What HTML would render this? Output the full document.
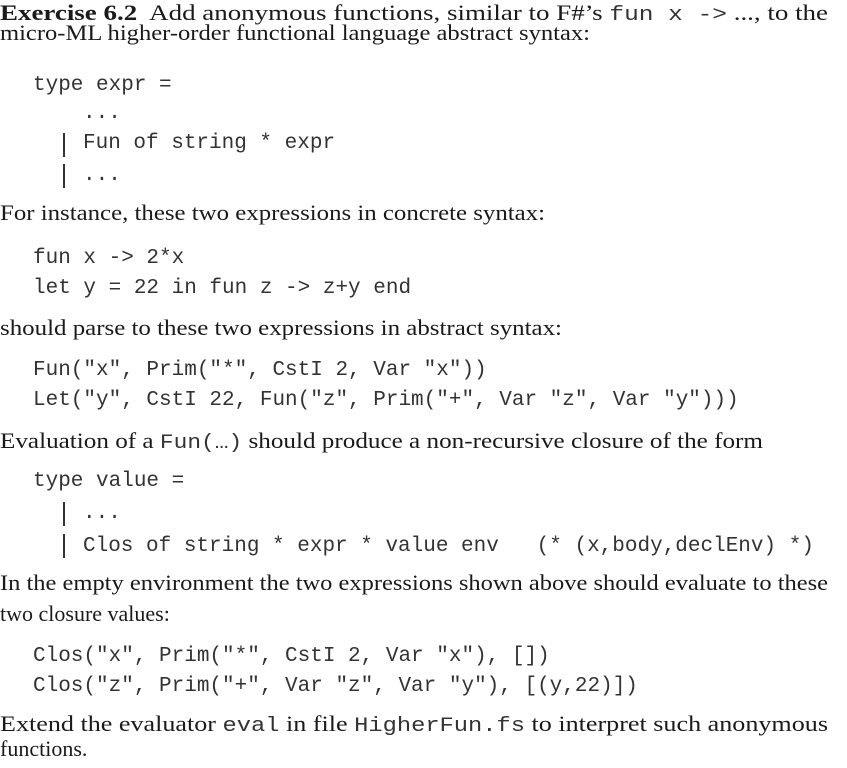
<!DOCTYPE html>
<html><head><meta charset="utf-8"><style>
html,body{margin:0;padding:0;background:#fff;}
body{width:847px;height:768px;position:relative;overflow:hidden;color:#1a1a1a;}
.t{position:absolute;left:0;white-space:nowrap;font-family:"Liberation Serif",serif;font-size:22px;line-height:22px;transform-origin:0 0;}
.c{position:absolute;white-space:pre;font-family:"Liberation Mono",monospace;font-size:21px;line-height:21px;color:#333;}
.m{font-family:"Liberation Mono",monospace;font-size:20px;color:#333;}
.bar{position:absolute;width:1.5px;background:#333;height:24px;}
</style></head><body>
<div class="t j828" style="top:2px"><b>Exercise 6.2</b>&nbsp; Add anonymous functions, similar to F#’s <span class="m">fun x -&gt;</span> ..., to the</div>
<div class="t j590" style="top:22px">micro-ML higher-order functional language abstract syntax:</div>
<div class="c" style="left:33px;top:75px">type expr =</div>
<div class="c" style="left:83px;top:103px">...</div>
<div class="bar" style="left:63px;top:133px"></div>
<div class="c" style="left:83px;top:133px">Fun of string * expr</div>
<div class="bar" style="left:63px;top:164px"></div>
<div class="c" style="left:83px;top:165px">...</div>
<div class="t j545" style="top:202px">For instance, these two expressions in concrete syntax:</div>
<div class="c" style="left:33px;top:248px">fun x -&gt; 2*x</div>
<div class="c" style="left:33px;top:278px">let y = 22 in fun z -&gt; z+y end</div>
<div class="t j562" style="top:317px">should parse to these two expressions in abstract syntax:</div>
<div class="c" style="left:33px;top:360px">Fun("x", Prim("*", CstI 2, Var "x"))</div>
<div class="c" style="left:33px;top:390px">Let("y", CstI 22, Fun("z", Prim("+", Var "z", Var "y")))</div>
<div class="t j763" style="top:430px">Evaluation of a <span class="m">Fun(…)</span> should produce a non-recursive closure of the form</div>
<div class="c" style="left:33px;top:471px">type value =</div>
<div class="bar" style="left:63px;top:502px"></div>
<div class="c" style="left:83px;top:503px">...</div>
<div class="bar" style="left:63px;top:534px"></div>
<div class="c" style="left:83px;top:536px">Clos of string * expr * value env   (* (x,body,declEnv) *)</div>
<div class="t j828" style="top:572px">In the empty environment the two expressions shown above should evaluate to these</div>
<div class="t" style="top:603px">two closure values:</div>
<div class="c" style="left:33px;top:646px">Clos("x", Prim("*", CstI 2, Var "x"), [])</div>
<div class="c" style="left:33px;top:676px">Clos("z", Prim("+", Var "z", Var "y"), [(y,22)])</div>
<div class="t j828" style="top:713px">Extend the evaluator <span class="m">eval</span> in file <span class="m">HigherFun.fs</span> to interpret such anonymous</div>
<div class="t" style="top:738px">functions.</div>
<script>
document.querySelectorAll('.t').forEach(function(el){
  var m=el.className.match(/j(\d+)/); if(!m) return;
  var target=+m[1];
  var w=el.getBoundingClientRect().width;
  if(w>0) el.style.transform='scaleX('+(target/w)+')';
});
</script>
</body></html>
